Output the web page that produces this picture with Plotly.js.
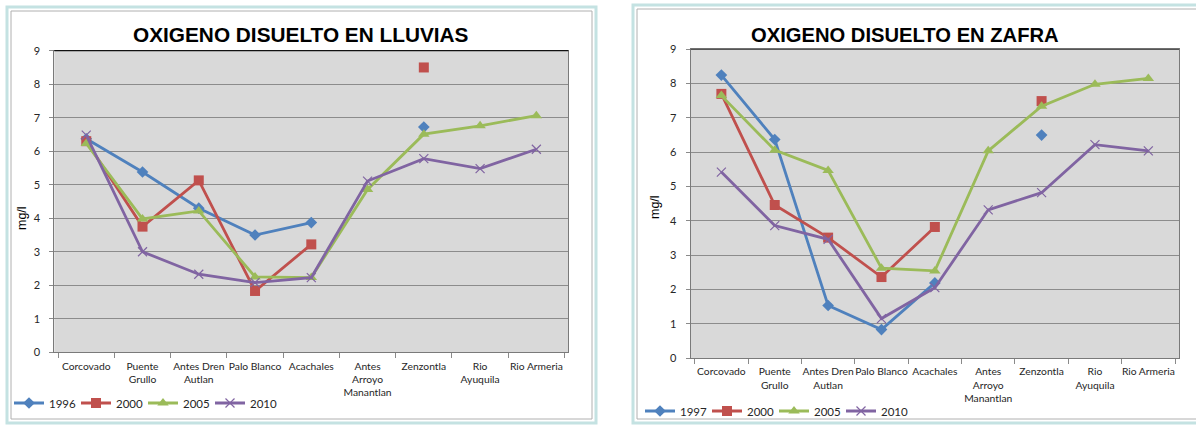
<!DOCTYPE html>
<html>
<head>
<meta charset="utf-8">
<script src="https://cdn.plot.ly/plotly-3.0.1.min.js"></script>
<style>
  html, body { margin: 0; padding: 0; background: #ffffff; }
  #chart { width: 1196px; height: 426px; }
</style>
</head>
<body>
<div id="chart"></div>
<script>
// ---- Data ----
const categories = ["Corcovado", "Puente<br>Grullo", "Antes Dren<br>Autlan", "Palo Blanco", "Acachales",
  "Antes<br>Arroyo<br>Manantlan", "Zenzontla", "Rio<br>Ayuquila", "Rio Armeria"];

const titleLluvias = "OXIGENO DISUELTO EN LLUVIAS";
const titleZafra = "OXIGENO DISUELTO EN ZAFRA";
const yTitle = "mg/l";

// Lluvias (rainy season)
const lluvias1996 = [6.37, 5.38, 4.30, 3.50, 3.87, null, 6.72, null, null];
const lluvias2000 = [6.30, 3.75, 5.13, 1.83, 3.22, null, 8.50, null, null];
const lluvias2005 = [6.23, 3.98, 4.22, 2.25, 2.23, 4.86, 6.51, 6.76, 7.06];
const lluvias2010 = [6.48, 3.00, 2.33, 2.08, 2.23, 5.11, 5.78, 5.48, 6.06];
const lluviasNames = ["1996", "2000", "2005", "2010"];

// Zafra (harvest season)
const zafra1997 = [8.25, 6.37, 1.53, 0.83, 2.19, null, 6.50, null, null];
const zafra2000 = [7.70, 4.46, 3.51, 2.36, 3.82, null, 7.49, null, null];
const zafra2005 = [7.65, 6.06, 5.47, 2.62, 2.54, 6.04, 7.34, 7.98, 8.15];
const zafra2010 = [5.42, 3.86, 3.46, 1.15, 2.05, 4.32, 4.82, 6.22, 6.04];
const zafraNames = ["1997", "2000", "2005", "2010"];

const yTicks = [0, 1, 2, 3, 4, 5, 6, 7, 8, 9];

// ---- Styles ----
const colors = ["#4F81BD", "#C0504D", "#9BBB59", "#8064A2"];
const symbols = ["diamond", "square", "triangle-up", "x-thin"];
const msizes = [9, 10, 10, 9];
const W = 1196, H = 426;
const px = v => v / W;
const py = v => 1 - v / H;

// legend entry positions (left edge of each entry, in pixels)
const leftLegendX = [9, 76, 143, 210];
const rightLegendX = [640, 707, 774, 841];
const leftLegendY = 403, rightLegendY = 411;

function mk(y, i, name, xa, ya, lg) {
  return {
    type: "scatter", mode: "lines+markers",
    x: categories, y: y, name: name,
    xaxis: xa, yaxis: ya, legend: lg,
    connectgaps: false,
    line: { color: colors[i], width: 2.8 },
    marker: { symbol: symbols[i], size: msizes[i], color: colors[i],
              line: { color: colors[i], width: i === 3 ? 1.2 : 0 } },
    cliponaxis: false
  };
}

const leftSeries = [lluvias1996, lluvias2000, lluvias2005, lluvias2010];
const rightSeries = [zafra1997, zafra2000, zafra2005, zafra2010];
const traces = [];
const legendNames = ["legend", "legend2", "legend3", "legend4", "legend5", "legend6", "legend7", "legend8"];
leftSeries.forEach((s, i) => traces.push(mk(s, i, lluviasNames[i], "x", "y", legendNames[i])));
rightSeries.forEach((s, i) => traces.push(mk(s, i, zafraNames[i], "x2", "y2", legendNames[4 + i])));

const labFont = { family: "Lato, 'Open Sans', sans-serif", size: 10.3, color: "#262626" };
const yLabFont = { family: "Lato, 'Open Sans', sans-serif", size: 11, color: "#262626" };

function xax(domain, anchor) {
  return {
    domain: domain, anchor: anchor, type: "category",
    tickson: "boundaries", ticks: "outside", ticklen: 5, tickcolor: "#8a8a8a",
    tickangle: 0,
    showgrid: false, showline: true, linecolor: "#7a7a7a", linewidth: 1, mirror: true,
    tickfont: labFont, ticklabelstandoff: 4, fixedrange: true, zeroline: false
  };
}
function yax(domain, anchor) {
  return {
    domain: domain, anchor: anchor, range: [0, 9], tickvals: yTicks,
    ticks: "outside", ticklen: 4, tickcolor: "#8a8a8a",
    showgrid: true, gridcolor: "#8c8c8c", gridwidth: 1,
    showline: true, linecolor: "#7a7a7a", linewidth: 1, mirror: true,
    tickfont: yLabFont, ticklabelstandoff: 7, zeroline: false, fixedrange: true
  };
}

function leg(x, y) {
  return {
    orientation: "h", x: px(x), y: py(y), xanchor: "left", yanchor: "middle",
    font: { family: "Lato, sans-serif", size: 11.5, color: "#262626" },
    bgcolor: "rgba(0,0,0,0)", borderwidth: 0, itemwidth: 30
  };
}

const layout = {
  width: W, height: H, autosize: false,
  margin: { l: 0, r: 0, t: 0, b: 0 },
  paper_bgcolor: "#ffffff", plot_bgcolor: "#d9d9d9",
  showlegend: true,
  xaxis: xax([px(54.3), px(568.3)], "y"),
  yaxis: yax([py(352.3), py(50.7)], "x"),
  xaxis2: xax([px(690.7), px(1179)], "y2"),
  yaxis2: yax([py(358), py(49.3)], "x2"),
  annotations: [
    { text: titleLluvias, x: px(301), y: py(35), xref: "paper", yref: "paper",
      xanchor: "center", yanchor: "middle", showarrow: false,
      font: { family: "'Liberation Sans', Arial, sans-serif", size: 20.8, color: "#000", weight: "bold" } },
    { text: titleZafra, x: px(905), y: py(35), xref: "paper", yref: "paper",
      xanchor: "center", yanchor: "middle", showarrow: false,
      font: { family: "'Liberation Sans', Arial, sans-serif", size: 20.2, color: "#000", weight: "bold" } },
    { text: yTitle, x: px(22), y: py(218), xref: "paper", yref: "paper", textangle: -90,
      xanchor: "center", yanchor: "middle", showarrow: false,
      font: { family: "'Liberation Sans', Arial, sans-serif", size: 12.5, color: "#000" } },
    { text: yTitle, x: px(655), y: py(207), xref: "paper", yref: "paper", textangle: -90,
      xanchor: "center", yanchor: "middle", showarrow: false,
      font: { family: "'Liberation Sans', Arial, sans-serif", size: 12.5, color: "#000" } }
  ],
  shapes: [
    { type: "rect", xref: "paper", yref: "paper", x0: px(7), x1: px(596), y0: py(423), y1: py(7),
      line: { color: "#c4e2e2", width: 3 }, layer: "below" },
    { type: "rect", xref: "paper", yref: "paper", x0: px(11), x1: px(592), y0: py(419), y1: py(11),
      line: { color: "#b0b0b0", width: 1 }, layer: "below" },
    { type: "rect", xref: "paper", yref: "paper", x0: px(633), x1: px(1200), y0: py(423), y1: py(5),
      line: { color: "#c4e2e2", width: 3 }, layer: "below" },
    { type: "rect", xref: "paper", yref: "paper", x0: px(637), x1: px(1200), y0: py(419), y1: py(9),
      line: { color: "#b0b0b0", width: 1 }, layer: "below" },
    { type: "line", xref: "paper", yref: "paper", x0: px(54.3), x1: px(568.3), y0: py(50.7), y1: py(50.7),
      line: { color: "#111", width: 1.2 } },
    { type: "line", xref: "paper", yref: "paper", x0: px(690.7), x1: px(1179), y0: py(49.3), y1: py(49.3),
      line: { color: "#555", width: 1.2 } }
  ]
};
leftLegendX.forEach((x, i) => { layout[legendNames[i]] = leg(x, leftLegendY); });
rightLegendX.forEach((x, i) => { layout[legendNames[4 + i]] = leg(x, rightLegendY); });

Plotly.newPlot("chart", traces, layout, { staticPlot: true, displayModeBar: false });
</script>
</body>
</html>
